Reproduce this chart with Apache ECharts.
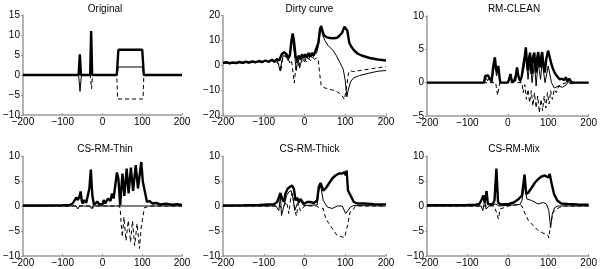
<!DOCTYPE html>
<html><head><meta charset="utf-8">
<script src="https://cdn.jsdelivr.net/npm/echarts@6/dist/echarts.min.js"></script>
<style>html,body{margin:0;padding:0;background:#fff}#c{width:600px;height:269px}</style>
</head><body><div id="c"></div>
<script>
// ---------- tick labels / titles ----------
const titles = ["Original", "Dirty curve", "RM-CLEAN", "CS-RM-Thin", "CS-RM-Thick", "CS-RM-Mix"];
const xTicks = [-200, -100, 0, 100, 200];
const yRanges = [[-10, 15, 5], [-20, 20, 10], [-5, 10, 5], [-10, 10, 5], [-10, 10, 5], [-10, 10, 5]];

// ---------- Panel 1: Original ----------
const orig_amp = [[-200,0],[-60,0],[-57,5.2],[-54,0],[-31,0],[-28.5,11],[-26,0],[36,0],[40,6.3],[100,6.3],[104,0],[200,0]];
const orig_re  = [[-200,0],[-60,0],[-56.5,-4.1],[-53,0],[-31,0],[-28.5,10.4],[-26,0],[36,0],[40,2],[100,2],[104,0],[200,0]];
const orig_im  = [[-200,0],[-60,0],[-57,2.5],[-54,0],[-31,0],[-27.5,-3.4],[-25,0],[36,0],[38,-6],[102,-6],[104,0],[200,0]];

// ---------- Panel 2: Dirty curve ----------
const dirty_amp = [[-200,1.0],[-192,1.3],[-184,0.9],[-176,1.2],[-168,1.0],[-160,1.4],[-152,1.1],[-144,1.5],[-136,1.2],[-128,1.6],[-120,1.3],[-112,1.8],[-104,1.4],[-96,2.0],[-88,1.5],[-80,2.3],[-74,1.6],[-68,2.6],[-62,2.0],[-56,4.5],[-50,5.3],[-44,4.5],[-40,3],[-36,4],[-32,10],[-29,12.8],[-26,10],[-22,4],[-18,2],[-14,4],[-10,2.5],[-6,4.5],[-2,3],[2,4.5],[6,3.2],[10,5],[14,3.5],[18,5],[22,4],[26,5.5],[30,6],[34,9],[38,14.5],[41,15.8],[44,14],[48,12],[52,11.6],[56,11.2],[60,11.5],[64,11],[68,11.3],[72,10.9],[76,11.2],[80,11.1],[85,11.8],[92,13],[98,15.5],[102,16],[105,14],[110,9],[115,7.5],[122,6],[130,4.8],[140,4],[150,3.5],[160,3],[170,2.7],[180,2.4],[190,2.2],[200,2]];
const dirty_re = [[-200,0.8],[-192,1.1],[-184,0.7],[-176,1.0],[-168,0.8],[-160,1.2],[-152,0.9],[-144,1.3],[-136,1.0],[-128,1.4],[-120,1.1],[-112,1.6],[-104,1.1],[-96,1.8],[-88,1.2],[-80,2.0],[-74,1.0],[-68,2.2],[-64,0.5],[-60,-2.1],[-56,1.5],[-52,4],[-45,3.5],[-40,2],[-35,5],[-31,9],[-29,10.5],[-25,5],[-20,-2],[-16,3],[-12,-1],[-6,3],[0,1.5],[5,3.5],[10,2.5],[15,4],[20,3],[25,4.5],[30,5],[34,8],[38,13],[41,14.5],[45,12],[50,10],[58,8],[70,6],[78,4],[86,1.5],[95,-1.5],[100,-6],[104,-12.5],[107,-10],[113,-6.5],[120,-5],[135,-4],[160,-3],[180,-2.3],[200,-2]];
const dirty_im = [[-200,0.9],[-192,1.2],[-184,0.8],[-176,1.1],[-168,0.9],[-160,1.3],[-152,1.0],[-144,1.4],[-136,1.1],[-128,1.5],[-120,1.2],[-112,1.7],[-104,1.3],[-96,1.9],[-88,1.3],[-80,2.1],[-70,1.5],[-62,0.5],[-58,-2.5],[-54,2.5],[-48,4],[-42,3.5],[-36,1],[-32,2],[-28,-3],[-25,-7],[-22,-2],[-18,3.5],[-14,0],[-10,2.5],[-5,1.5],[0,2.5],[5,1.5],[10,2.8],[15,2],[20,3],[25,2.5],[30,3],[34,2],[37,-3],[41,-8],[47,-8.8],[55,-9.2],[65,-9.7],[75,-10],[85,-11],[92,-12],[98,-13.6],[101,-13],[104,-8],[108,-3],[112,-2],[118,-2.4],[125,-2.3],[140,-1.9],[160,-1.4],[180,-0.9],[200,-0.5]];

// ---------- Panel 3: RM-CLEAN ----------
const clean_amp = [[-200,0],[-59,0],[-56,1.0],[-52,0.8],[-49,1.1],[-45,0.6],[-40,0.2],[-36,2.5],[-32,3.8],[-29,2.0],[-26,1.5],[-23.5,2.5],[-20,0.5],[-18,0],[0,0],[3,0.5],[6.5,1.3],[10,0.2],[14,0],[18,0.3],[22.7,2.3],[26,1.0],[30,0.3],[34,0.8],[38.9,2.8],[42,4.0],[44.6,5.3],[47,3.2],[49.4,1.8],[52,3.5],[55,4.5],[57,2.5],[59,1.3],[62,3.8],[65.6,4.5],[67.5,2.8],[69.6,1.5],[72,3.5],[75.3,4.6],[78,3.0],[81,2.3],[83,4.0],[85,4.6],[88,2.8],[91.5,1.5],[95,3.5],[99.6,4.8],[103,4.0],[107.7,2.8],[111,2.2],[115.8,1.5],[120,1.1],[123.9,0.8],[128,0.5],[133.6,0.6],[139,0.4],[144,0.8],[147,0.2],[149.8,0],[152,0.6],[154.7,0.5],[157,0.1],[160,0.4],[162.8,0],[200,0]];
const clean_re = [[-200,0],[-58,0],[-55,0.8],[-50,0.3],[-45,0.9],[-40,0],[-32,3],[-28,1],[-24,2],[-18,0],[0,0],[6.5,1],[12,0],[23,1.8],[31,0],[39,2],[45,4],[50,0.5],[55,3.5],[60,0],[66,3],[70,-0.5],[75,3],[81,0.5],[85,3.2],[92,0],[100,2.5],[108,0],[115,-0.8],[125,-0.5],[135,-0.7],[145,-0.3],[150,0.2],[155,-0.2],[165,0],[200,0]];
const clean_im = [[-200,0],[-30,0],[-25.5,-1.9],[-20,0],[35,0],[38,-1.5],[42,-0.3],[46,-2.5],[50,-1],[54,-3],[58,-1.2],[62,-3.5],[66,-1.5],[70,-3.8],[74,-2],[78,-4.5],[82,-2.5],[86,-4.2],[90,-2],[94,-3.8],[98,-1.5],[102,-3.2],[106,-1.2],[110,-2.5],[115,-1],[120,-1.5],[126,-0.5],[135,-0.2],[145,0],[200,0]];

// ---------- Panel 4: CS-RM-Thin ----------
const thin_amp = [[-200,0.1],[-150,0.1],[-100,0.15],[-82,0.2],[-75,0.5],[-70,0.9],[-66,1.7],[-62,1.2],[-58,1.9],[-55,2.9],[-52,1.0],[-49.5,0.5],[-45.4,1.2],[-41,0.6],[-37.3,0.3],[-33,3.5],[-29.3,7.3],[-27,4],[-25.2,1.9],[-21.2,0.2],[-17,0.5],[-13,0.9],[-9,0.4],[-4.9,0.5],[0,0.3],[3.3,1.2],[7,0.5],[11.4,0.7],[14,1.5],[17.1,1.9],[20,1],[24,2.5],[28,1.5],[32,4],[36.3,6.7],[40,5.5],[44.5,0.1],[47,3],[50.2,6.5],[55,2],[60.8,7.5],[65.7,2.5],[71.4,7.7],[77,3],[83.6,8.2],[89.3,3.5],[97.5,8.8],[101.6,4.8],[105.6,4.6],[112,0.8],[117.9,1.0],[126,0.5],[135,0.6],[146,0.3],[160,0.45],[175,0.25],[188,0.35],[200,0.2]];
const thin_re = [[-200,0],[-66,0],[-62,-0.6],[-58,0],[-31,0],[-28,-0.5],[-25,0],[200,0]];
const thin_im = [[-200,0],[-26,0],[-24.8,-0.5],[-22,0],[42,0],[44.5,-0.5],[47,-3.5],[50,-6.2],[54,-2.2],[59,-6.9],[65,-2.9],[70.6,-7.2],[75.5,-3],[81,-7.9],[87,-3.5],[93,-8.5],[97.5,-4.2],[101.6,-2.2],[105.6,-0.3],[112,-0.2],[120,0],[200,0]];

// ---------- Panel 5: CS-RM-Thick ----------
const thick_amp = [[-200,0.1],[-150,0.15],[-110,0.2],[-90,0.3],[-75,0.35],[-67,0.8],[-59,2.6],[-55,1.5],[-50.8,0.8],[-46.7,2.5],[-41,3.5],[-36,3.8],[-30.3,4.1],[-26,3.4],[-22,1.1],[-18,1.7],[-14,0.7],[-10,1.4],[-1.6,0.4],[6.6,0.8],[14.8,0.8],[23,0.6],[31,1.1],[35,3.8],[39.4,4.6],[46,3.1],[51.7,3.5],[60,4.5],[68,5.5],[76,6.1],[84.5,6.5],[92.7,6.5],[98.5,6.8],[101,6.1],[103.4,7.1],[106.7,3.1],[113,2.1],[121,0.8],[129.6,0.5],[146,0.5],[170.6,0.35],[200,0.33]];
const thick_re = [[-200,0],[-70,0],[-63,-0.9],[-59,2.1],[-56.5,-1.9],[-51,-0.2],[-44,2.1],[-38.5,2.8],[-33,3.1],[-28,1.5],[-24,-0.9],[-18,0.4],[-10,1.1],[-2,0.1],[31,0.2],[35,3.1],[39.4,4.1],[46,1.1],[56,-0.2],[68,-0.5],[80.4,0],[92.7,0],[101,-1.5],[105,-1.2],[113,-0.2],[121,0.1],[200,0]];
const thick_im = [[-200,0],[-60,0],[-55,-0.5],[-44,0.8],[-38.5,-1.5],[-34,1.5],[-30,2.5],[-25,0],[-20,-2],[-15,0.5],[-10,-1],[0,0],[30,0],[35,-0.3],[46,-0.5],[52,-2.5],[60,-3.5],[68,-4.5],[80,-5.9],[93,-6.2],[98.5,-6.3],[102.6,-6.5],[106.7,-3.5],[111.6,-1.2],[117,-1],[125.5,0],[200,0]];

// ---------- Panel 6: CS-RM-Mix ----------
const mix_amp = [[-200,0.15],[-150,0.15],[-100,0.2],[-80,0.25],[-70.4,0.4],[-64,1.4],[-60.7,2.1],[-57.4,0.7],[-52.6,3],[-49.3,0.4],[-44.5,0.3],[-38,0.3],[-33,1.1],[-28.3,7.5],[-24.2,0.7],[-17.8,0.3],[2.5,0.4],[14.7,0.7],[26.8,1.4],[34.9,2.1],[39,4.7],[41.4,6.3],[45.4,2.4],[51,2.7],[59.2,3.7],[67.3,4.7],[75.4,5.4],[83.5,5.9],[91.6,6.1],[95.7,6.4],[99.7,5.7],[103.7,6.4],[107.8,4.7],[114.3,2.4],[122.4,1.1],[132,0.5],[148,0.4],[172.6,0.3],[200,0.25]];
const mix_re = [[-200,0],[-66,0],[-62,-0.9],[-57,1.1],[-54,-0.6],[-46,0],[-30,0.4],[-22,0],[30,0.3],[35,1.1],[41,4.4],[47,1.4],[59,1.1],[75,0.4],[87.6,0.7],[95.7,0.4],[101.3,-0.9],[106,-4.3],[110,-1.6],[116,-0.3],[124,0],[200,0]];
const mix_im = [[-200,0],[-34,0],[-28,-1.3],[-23.4,-2.6],[-19,-0.6],[2.5,0],[27,0.3],[35,0],[43,-1.6],[51,-2.9],[59,-3.6],[75,-4.9],[91.6,-5.6],[99.7,-5.9],[101.3,-6.4],[106,-3.6],[112,-1.3],[120,-0.6],[128,-0.3],[136,0],[200,0]];

const panels = [
  [orig_amp, orig_re, orig_im],
  [dirty_amp, dirty_re, dirty_im],
  [clean_amp, clean_re, clean_im],
  [thin_amp, thin_re, thin_im],
  [thick_amp, thick_re, thick_im],
  [mix_amp, mix_re, mix_im]
];

// ---------- layout ----------
const gridBoxes = [
  {left: 18, top: 15, width: 164, height: 100},
  {left: 223, top: 15.5, width: 163, height: 100},
  {left: 427, top: 16, width: 164, height: 100},
  {left: 18, top: 156, width: 164, height: 100},
  {left: 223, top: 156, width: 163, height: 100},
  {left: 427, top: 156, width: 164, height: 100}
];
const FONT = "Liberation Sans";
const fmt = v => String(v).replace('-', '\u2212');
const axisGray = '#9a9a9a';

const grid = [], xAxis = [], yAxis = [], series = [], title = [];
gridBoxes.forEach((g, i) => {
  grid.push(Object.assign({containLabel: false}, g));
  title.push({
    text: titles[i], left: g.left + g.width / 2, top: i < 3 ? -1 : 139,
    textAlign: 'center',
    textStyle: {fontFamily: FONT, fontSize: 10, fontWeight: 'normal', color: '#000'}
  });
  xAxis.push({
    type: 'value', gridIndex: i, min: xTicks[0], max: xTicks[xTicks.length - 1], interval: 100,
    axisLine: {show: true, onZero: false, lineStyle: {color: axisGray, width: 1.5}},
    axisTick: {show: true, inside: true, length: 2, lineStyle: {color: axisGray}},
    axisLabel: {fontFamily: FONT, fontSize: 10, color: '#000', margin: 2, formatter: fmt},
    splitLine: {show: false}
  });
  const r = yRanges[i];
  yAxis.push({
    type: 'value', gridIndex: i, min: r[0], max: r[1], interval: r[2],
    axisLine: {show: true, onZero: false, lineStyle: {color: axisGray, width: 1.5}},
    axisTick: {show: true, inside: false, length: 2, lineStyle: {color: axisGray}},
    axisLabel: {fontFamily: FONT, fontSize: 10, color: '#000', margin: 3, formatter: fmt},
    splitLine: {show: false}
  });
  const [amp, re, im] = panels[i];
  const base = {type: 'line', xAxisIndex: i, yAxisIndex: i, showSymbol: false, symbol: 'none', animation: false, silent: true};
  series.push(Object.assign({}, base, {data: im, lineStyle: {color: '#000', width: 1, type: [4, 3]}, z: 2}));
  series.push(Object.assign({}, base, {data: re, lineStyle: {color: '#000', width: 1}, z: 3}));
  series.push(Object.assign({}, base, {data: amp, lineStyle: {color: '#000', width: 2.4}, z: 4}));
});

const chart = echarts.init(document.getElementById('c'), null, {renderer: 'canvas'});
chart.setOption({backgroundColor: '#fff', animation: false, title, grid, xAxis, yAxis, series});
</script>
</body></html>
